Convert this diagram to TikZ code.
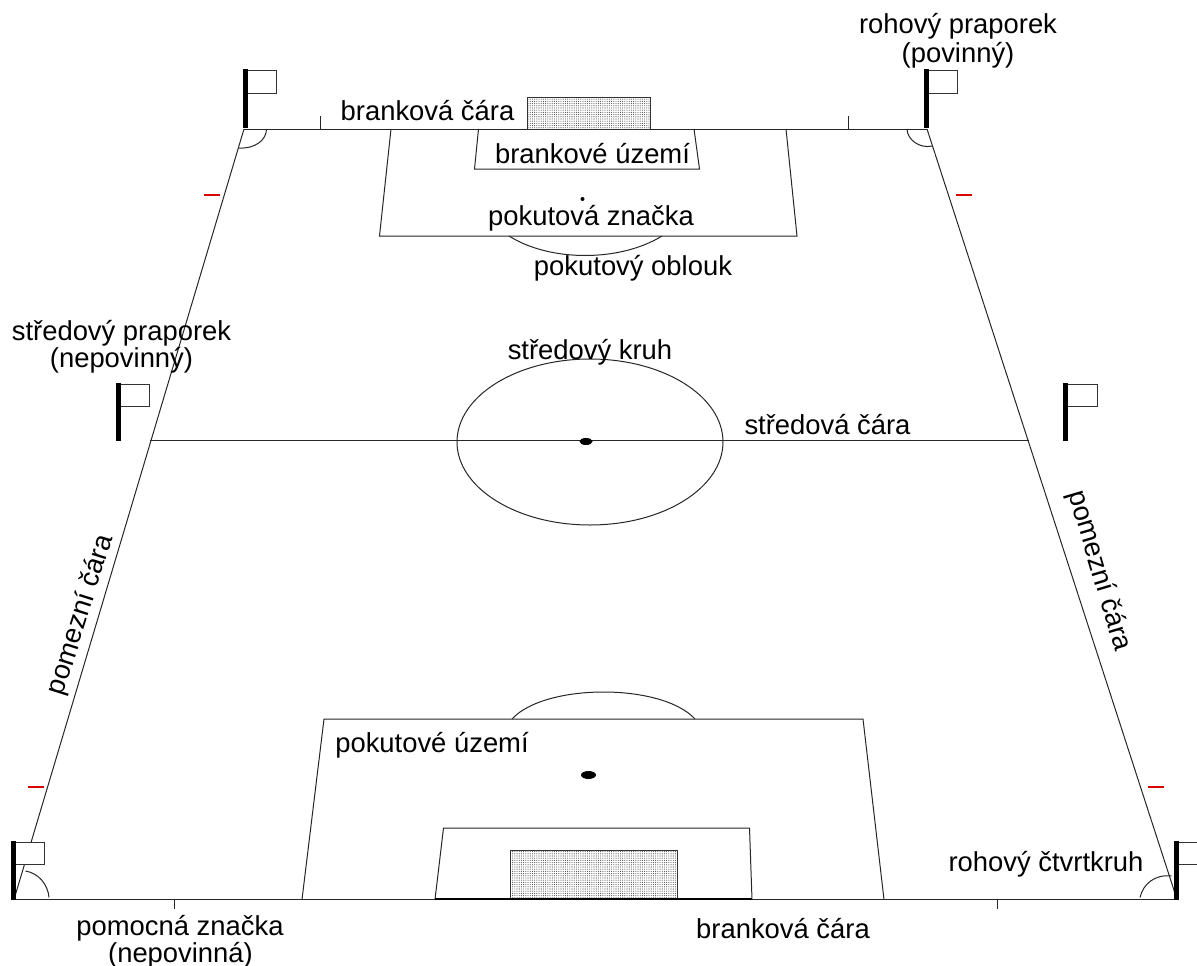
\documentclass[tikz,border=0pt]{standalone}
\usepackage{fontspec}
\setmainfont{Liberation Sans}
\usetikzlibrary{patterns.meta}
\tikzset{
  lab/.style={anchor=base,inner sep=0pt,font=\fontsize{27.4}{30}\selectfont,text=black},
  ln/.style={draw=black!85,line width=1pt},
  pole/.style={fill=black,draw=none},
  flagbox/.style={draw=black!80,line width=1pt,fill=white},
  redm/.style={draw=red!85!black,line width=1.4pt},
  goalbox/.style={draw=black!80,line width=1pt,fill=black!12,pattern={Dots[distance=2.2pt,radius=0.55pt]},pattern color=black!70}
}
\begin{document}
\begin{tikzpicture}[x=1pt,y=-1pt]
\useasboundingbox (0,0) rectangle (1197,966);
\begin{scope}
\clip (0,0) rectangle (1197,966);
% pitch
\draw[ln] (244,129) -- (927,129);
\draw[ln] (244,129) -- (14,899.5);
\draw[ln] (927,129) -- (1177,899.5);
\draw[ln] (14,899.5) -- (1177,899.5);
\draw[ln] (150,440) -- (1029,440);
% ticks
\draw[ln] (320.5,116) -- (320.5,129);
\draw[ln] (848.5,116) -- (848.5,129);
\draw[ln] (174.5,899.5) -- (174.5,909);
\draw[ln] (997.5,899.5) -- (997.5,909);
% corner arcs
\draw[ln] (266.5,129) .. controls (266.5,140) and (255,149) .. (239,148);
\draw[ln] (907,129) .. controls (907,139) and (919,149) .. (932.5,146);
\draw[ln] (25.5,871) .. controls (38,873) and (48,884) .. (49,897.5);
\draw[ln] (1140,897.5) .. controls (1143,884) and (1155,874) .. (1171.5,876);
% top boxes
\draw[ln] (391,129) -- (379.5,236) -- (797,236) -- (786,129);
\draw[ln] (478.5,129) -- (474.5,169) -- (699.5,169) -- (694,129);
\draw[goalbox] (527.5,97) rectangle (650,129);
% top arc and spot
\draw[ln] (509,236) .. controls (550,262) and (620,262) .. (662,236);
\fill (582.5,199) circle (2);
% centre
\draw[ln] (590,442) ellipse [x radius=133,y radius=83];
\fill (586,441.5) ellipse [x radius=6.5,y radius=3.5];
% bottom boxes
\draw[ln] (302,899.5) -- (324,719) -- (863,719) -- (884,899.5);
\draw[ln] (435,899.5) -- (443.5,828) -- (749.5,828) -- (752,899.5);
\draw[goalbox] (510.5,850) rectangle (677,898);
\draw[draw=black,line width=2pt] (435,898.5) -- (752,898.5);
% bottom arc and spot
\draw[ln] (512,719) .. controls (545,683) and (662,683) .. (695,719);
\fill (588.5,775) ellipse [x radius=7.5,y radius=4];
% red marks
\draw[redm] (204,195) -- (220,195);
\draw[redm] (956,195) -- (972,195);
\draw[redm] (28,787) -- (44,787);
\draw[redm] (1148,787) -- (1164,787);
% flags
\draw[flagbox] (246,71) rectangle (276.5,93.5);
\fill[pole] (243.3,69.5) rectangle (247.5,128);
\draw[flagbox] (927,71) rectangle (957.5,93.5);
\fill[pole] (924.3,69.5) rectangle (928.7,128);
\draw[flagbox] (119,384) rectangle (149.5,406);
\fill[pole] (116,382.5) rectangle (120.5,441);
\draw[flagbox] (1066,384) rectangle (1097,406);
\fill[pole] (1063,382.5) rectangle (1067.5,441);
\draw[flagbox] (14,842) rectangle (44,864.5);
\fill[pole] (11,841) rectangle (15.5,899.5);
\draw[flagbox] (1177,842) rectangle (1210,864.5);
\fill[pole] (1174,841) rectangle (1178.5,900);
\end{scope}
% labels
\node[lab] (t1) at (958,34) {rohový praporek};
\node[lab] (t2) at (958,63) {(povinný)};
\node[lab] (t3) at (427.5,120) {branková čára};
\node[lab] (t4) at (592.5,163) {brankové území};
\node[lab] (t5) at (591,225.5) {pokutová značka};
\node[lab] (t6) at (633,275) {pokutový oblouk};
\node[lab] (t7) at (121.5,340) {středový praporek};
\node[lab] (t8) at (121.5,367) {(nepovinný)};
\node[lab] (t9) at (590,359) {středový kruh};
\node[lab] (t10) at (827.5,434) {středová čára};
\node[lab,rotate=72.5,anchor=center] (t11) at (81,615) {pomezní čára};
\node[lab,rotate=-73.5,anchor=center] (t12) at (1099,571) {pomezní čára};
\node[lab] (t13) at (432,752) {pokutové území};
\node[lab] (t14) at (1046,871) {rohový čtvrtkruh};
\node[lab] (t15) at (180,935) {pomocná značka};
\node[lab] (t16) at (180.5,962) {(nepovinná)};
\node[lab] (t17) at (783,938) {branková čára};
\end{tikzpicture}
\end{document}
